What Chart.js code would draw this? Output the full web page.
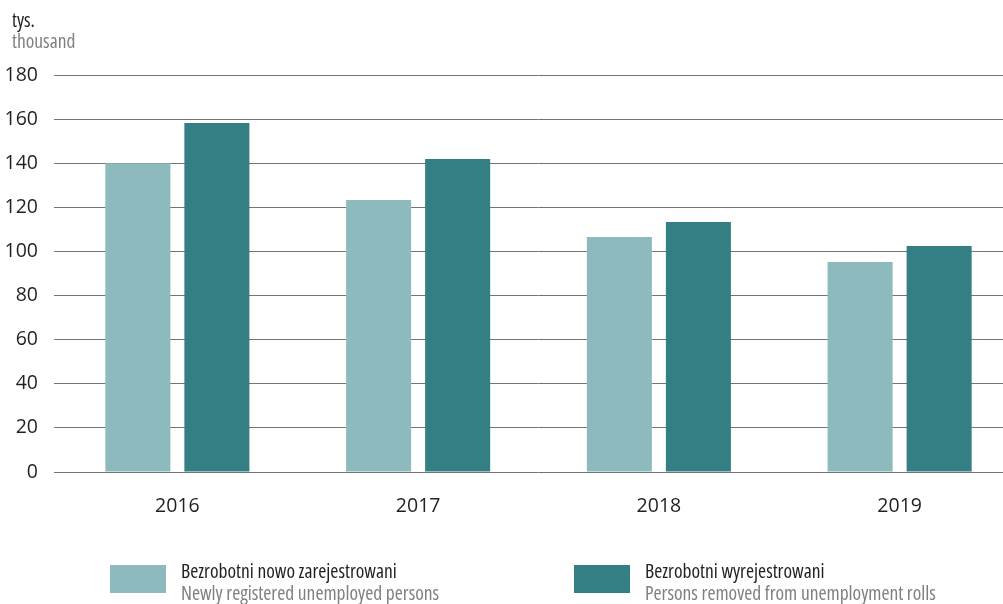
<!DOCTYPE html>
<html><head><meta charset="utf-8">
<script src="https://cdn.jsdelivr.net/npm/chart.js@4/dist/chart.umd.min.js"></script>
<style>
html,body{margin:0;padding:0;background:#fff;overflow:hidden;}
#wrap{position:relative;width:1003px;height:604px;overflow:hidden;}
#wrap canvas{position:absolute;left:0;top:0;}
</style></head>
<body><div id="wrap"><canvas id="c" width="1020" height="604" style="width:1020px;height:604px"></canvas></div>
<script>
const categories = ['2016','2017','2018','2019'];
const newlyRegistered = [140, 123.3, 106.5, 95.2];
const removed = [158.2, 141.9, 113.3, 102.5];
const seriesPL = ['Bezrobotni nowo zarejestrowani','Bezrobotni wyrejestrowani'];
const seriesEN = ['Newly registered unemployed persons','Persons removed from unemployment rolls'];
const unitPL = 'tys.';
const unitEN = 'thousand';
const colors = ['#8dbbbd','#337f84'];
const FAMILY = '"Open Sans",sans-serif';
const SIZE = 19.5;
const FONT = 'condensed ' + SIZE + 'px ' + FAMILY;

const extras = {
  id:'extras',
  afterDraw(chart){
    const ctx = chart.ctx;
    ctx.save();
    ctx.textBaseline = 'alphabetic';
    ctx.textAlign = 'left';
    ctx.font = FONT;
    ctx.fillStyle = '#231f20';
    ctx.fillText(unitPL, 12, 27);
    ctx.fillStyle = '#808080';
    ctx.fillText(unitEN, 12, 48);
    const lx = [110, 574];
    for (let i=0;i<2;i++){
      ctx.fillStyle = colors[i];
      ctx.fillRect(lx[i], 565, 56, 28);
      ctx.fillStyle = '#231f20';
      ctx.fillText(seriesPL[i], lx[i]+71, 578);
      ctx.fillStyle = '#808080';
      ctx.fillText(seriesEN[i], lx[i]+71, 600);
    }
    ctx.restore();
  }
};

new Chart(document.getElementById('c'), {
  type:'bar',
  data:{
    labels:categories,
    datasets:[
      {label:seriesPL[0], data:newlyRegistered, backgroundColor:colors[0], barPercentage:0.823, categoryPercentage:0.6565},
      {label:seriesPL[1], data:removed, backgroundColor:colors[1], barPercentage:0.823, categoryPercentage:0.6565}
    ]
  },
  options:{
    responsive:false,
    animation:false,
    devicePixelRatio:1,
    layout:{padding:{top:75,right:0,left:0,bottom:0}},
    plugins:{legend:{display:false},tooltip:{enabled:false}},
    scales:{
      x:{
        grid:{display:false,drawTicks:false},
        border:{display:false},
        ticks:{font:{family:FAMILY,size:SIZE,style:'condensed'},color:'#231f20',padding:23},
        afterFit(s){ s.height = 132; }
      },
      y:{
        min:0,max:180,
        grid:{color:'#747474',lineWidth:1,tickLength:3,drawTicks:true,tickColor:'#747474'},
        border:{display:false},
        ticks:{stepSize:20,font:{family:FAMILY,size:SIZE,style:'condensed'},color:'#231f20',padding:16},
        afterFit(s){ s.width = 57; }
      }
    }
  },
  plugins:[extras]
});
</script></body></html>
